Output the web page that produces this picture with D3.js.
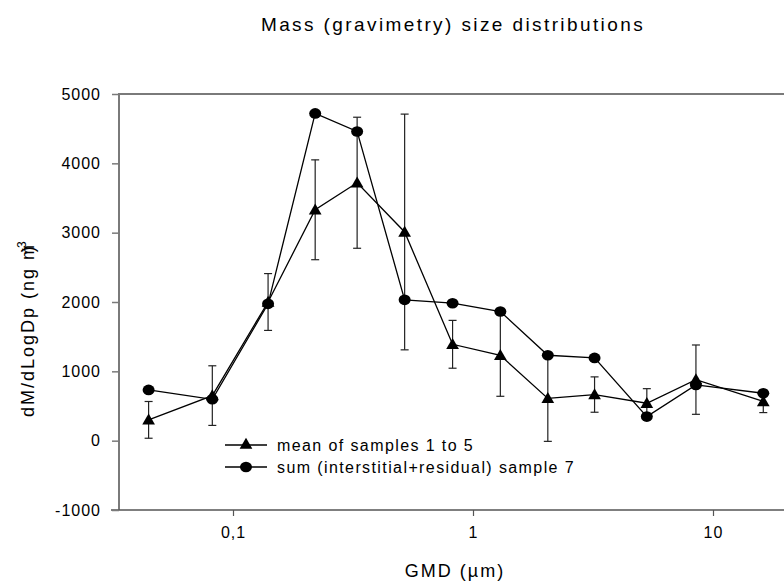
<!DOCTYPE html>
<html><head><meta charset="utf-8">
<script src="https://cdn.jsdelivr.net/npm/d3@7"></script>
<style>
html,body{margin:0;padding:0;background:#fff;}
text{font-family:"Liberation Sans",Arial,sans-serif;fill:#000;}
</style></head>
<body>
<svg id="chart" width="784" height="581"></svg>
<script>
// ---- data ----
const gmd = [0.0445, 0.082, 0.140, 0.220, 0.329, 0.519, 0.822, 1.30, 2.05, 3.21, 5.30, 8.49, 16.2];
const meanSamples = [300, 650, 2000, 3330, 3720, 3010, 1390, 1230, 610, 665, 540, 880, 565];
const meanError = [265, 430, 410, 720, 945, 1700, 345, 590, 620, 255, 210, 500, 160];
const sumSample7 = [732, 597, 1973, 4720, 4460, 2031, 1983, 1862, 1232, 1194, 347, 804, 684];
const xTicks = [0.1, 1, 10];
const xTickLabels = ["0,1", "1", "10"];
const yTicks = [-1000, 0, 1000, 2000, 3000, 4000, 5000];
const seriesNames = ["mean of samples 1 to 5", "sum (interstitial+residual) sample 7"];

// ---- layout ----
const svg = d3.select("#chart");
const pLeft = 119, pRight = 784, pTop = 94, pBottom = 510;
const x0 = d3.scaleLog().domain([0.1, 10]).range([233, 713]);
const x = d3.scaleLog().domain([x0.invert(pLeft), x0.invert(pRight)]).range([pLeft, pRight]);
const y = d3.scaleLinear().domain([-1000, 5000]).range([pBottom, pTop]);
const axisColor = "#7a7a7a";

// title
svg.append("text").attr("x", 453).attr("y", 31).attr("text-anchor", "middle")
  .style("font-size", "19px").style("letter-spacing", "2.4px")
  .text("Mass (gravimetry) size distributions");

// frame lines
svg.append("line").attr("x1", pLeft).attr("x2", pRight).attr("y1", pTop).attr("y2", pTop)
  .attr("stroke", axisColor).attr("stroke-width", 2);
svg.append("line").attr("x1", pLeft).attr("x2", pLeft).attr("y1", pTop - 1).attr("y2", pBottom)
  .attr("stroke", axisColor).attr("stroke-width", 2);
svg.append("line").attr("x1", pLeft - 8).attr("x2", pRight).attr("y1", pBottom).attr("y2", pBottom)
  .attr("stroke", "#555").attr("stroke-width", 1.5);

// y axis
const yAxis = d3.axisLeft(y).tickValues(yTicks).tickSize(7).tickSizeOuter(0).tickPadding(11)
  .tickFormat(d => String(d));
const gy = svg.append("g").attr("transform", `translate(${pLeft},0)`).call(yAxis);
gy.select(".domain").remove();
gy.selectAll(".tick line").attr("stroke", axisColor).attr("stroke-width", 1.5);
gy.selectAll(".tick text").style("font-size", "16px").style("letter-spacing", "1px")
  .style("font-family", "Liberation Sans, Arial, sans-serif").attr("fill", "#000");

// x axis
const xAxis = d3.axisBottom(x).tickValues(xTicks).tickSize(6).tickSizeOuter(0).tickPadding(11)
  .tickFormat((d, i) => xTickLabels[i]);
const gx = svg.append("g").attr("transform", `translate(0,${pBottom})`).call(xAxis);
gx.select(".domain").remove();
gx.selectAll(".tick line").attr("stroke", "#555").attr("stroke-width", 1.2);
gx.selectAll(".tick text").style("font-size", "16px").style("letter-spacing", "1px")
  .style("font-family", "Liberation Sans, Arial, sans-serif").attr("fill", "#000");

// axis titles
svg.append("text").attr("x", 455).attr("y", 577).attr("text-anchor", "middle")
  .style("font-size", "18px").style("letter-spacing", "2px").text("GMD (µm)");

const yl = svg.append("text").attr("transform", "translate(34,417) rotate(-90)")
  .style("font-size", "18px").style("letter-spacing", "2px");
yl.append("tspan").text("dM/dLogDp (ng m");
yl.append("tspan").attr("dx", -9).attr("dy", -8).style("font-size", "12px").style("letter-spacing", "0px").text("-3");
yl.append("tspan").attr("dx", -11).attr("dy", 8).text(")");

// data marks
const meanData = gmd.map((g, i) => ({g, v: meanSamples[i], e: meanError[i]}));
const sumData = gmd.map((g, i) => ({g, v: sumSample7[i]}));
const line = d3.line().x(d => x(d.g)).y(d => y(d.v));

// error bars (mean series)
const eb = svg.append("g").attr("stroke", "#222").attr("stroke-width", 1.2);
meanData.forEach(d => {
  const cx = x(d.g);
  eb.append("line").attr("x1", cx).attr("x2", cx).attr("y1", y(d.v + d.e)).attr("y2", y(d.v - d.e));
  eb.append("line").attr("x1", cx - 4).attr("x2", cx + 4).attr("y1", y(d.v + d.e)).attr("y2", y(d.v + d.e));
  eb.append("line").attr("x1", cx - 4).attr("x2", cx + 4).attr("y1", y(d.v - d.e)).attr("y2", y(d.v - d.e));
});

svg.append("path").datum(meanData).attr("d", line).attr("fill", "none").attr("stroke", "#000").attr("stroke-width", 1.3);
svg.append("path").datum(sumData).attr("d", line).attr("fill", "none").attr("stroke", "#000").attr("stroke-width", 1.3);

const tri = d3.symbol().type(d3.symbolTriangle).size(70);
svg.append("g").selectAll("path").data(meanData).join("path")
  .attr("d", tri).attr("transform", d => `translate(${x(d.g)},${y(d.v) + 1})`).attr("fill", "#000");
svg.append("g").selectAll("ellipse").data(sumData).join("ellipse")
  .attr("cx", d => x(d.g)).attr("cy", d => y(d.v)).attr("rx", 6).attr("ry", 5.3).attr("fill", "#000");

// legend
const lg = svg.append("g");
const rows = [445, 467];
rows.forEach((ry, i) => {
  lg.append("line").attr("x1", 225).attr("x2", 267).attr("y1", ry).attr("y2", ry).attr("stroke", "#000").attr("stroke-width", 1.3);
  if (i === 0) lg.append("path").attr("d", tri).attr("transform", `translate(246,${ry})`).attr("fill", "#000");
  else lg.append("ellipse").attr("cx", 246).attr("cy", ry).attr("rx", 6).attr("ry", 5.3).attr("fill", "#000");
  lg.append("text").attr("x", 277).attr("y", ry).attr("dy", "0.35em")
    .style("font-size", "16px").style("letter-spacing", "1.4px").text(seriesNames[i]);
});
</script>
</body></html>
